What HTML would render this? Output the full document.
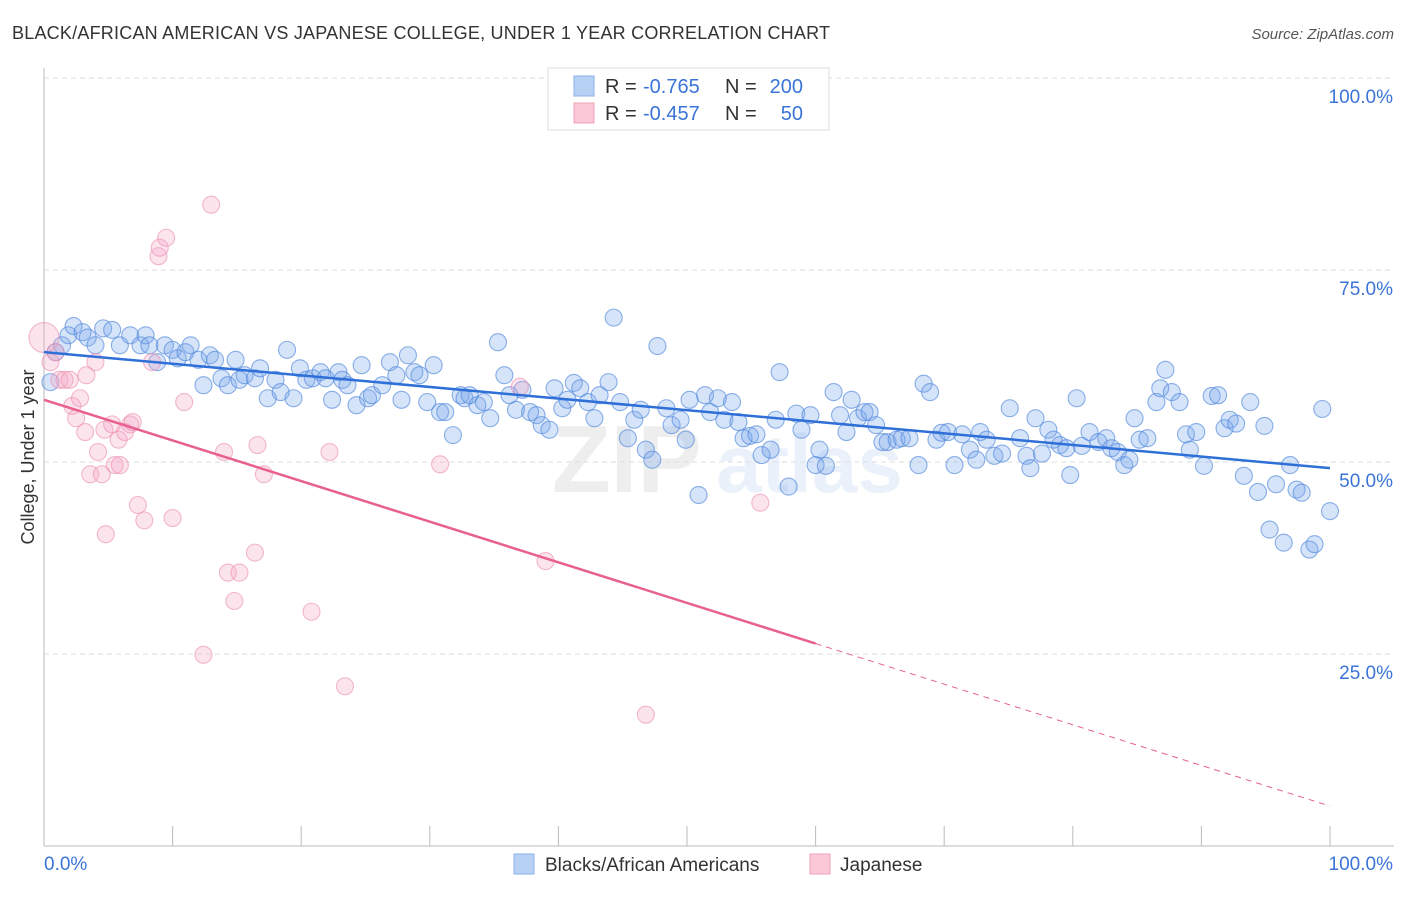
<!DOCTYPE html>
<html><head><meta charset="utf-8"><style>
body{margin:0;background:#fff;font-family:"Liberation Sans",sans-serif;}
svg text{font-family:"Liberation Sans",sans-serif;}
</style></head><body>
<svg id="chart" width="1406" height="892" xmlns="http://www.w3.org/2000/svg">
<text x="12" y="39" font-size="18" fill="#333" textLength="818" lengthAdjust="spacing">BLACK/AFRICAN AMERICAN VS JAPANESE COLLEGE, UNDER 1 YEAR CORRELATION CHART</text>
<text x="1394" y="39" font-size="15" fill="#555" text-anchor="end" font-style="italic">Source: ZipAtlas.com</text>
<g opacity="0.12"><text x="552" y="492" font-size="96" font-family="Liberation Serif" fill="#777" font-weight="bold">ZIP</text><text x="716" y="492" font-size="82" fill="#5b8fd8" font-weight="bold">atlas</text></g>
<g id="grid"></g><g id="axes"></g><g id="pts"></g><g id="lines"></g>
<text transform="translate(34,457) rotate(-90)" font-size="18" fill="#333" text-anchor="middle">College, Under 1 year</text>
<g>
<rect x="548" y="68" width="281" height="62" fill="#fff" stroke="#ddd"/>
<rect x="574" y="76" width="20" height="20" fill="#b7d1f5" stroke="#88b0e8"/>
<rect x="574" y="103" width="20" height="20" fill="#fbc8d6" stroke="#f0a0bc"/>
<text x="605" y="93" font-size="20" fill="#333">R =</text>
<text x="643" y="93" font-size="20" fill="#3a74d8">-0.765</text>
<text x="725" y="93" font-size="20" fill="#333">N =</text>
<text x="803" y="93" font-size="20" fill="#3a74d8" text-anchor="end">200</text>
<text x="605" y="120" font-size="20" fill="#333">R =</text>
<text x="643" y="120" font-size="20" fill="#3a74d8">-0.457</text>
<text x="725" y="120" font-size="20" fill="#333">N =</text>
<text x="803" y="120" font-size="20" fill="#3a74d8" text-anchor="end">50</text>
</g>
<g>
<rect x="514" y="854" width="20" height="20" fill="#b7d1f5" stroke="#88b0e8"/>
<text x="545" y="871" font-size="19" fill="#333">Blacks/African Americans</text>
<rect x="810" y="854" width="20" height="20" fill="#fbc8d6" stroke="#f0a0bc"/>
<text x="840" y="871" font-size="19" fill="#333">Japanese</text>
</g>
</svg>
<script>
const blueX=[0.5,0.9,1.4,1.9,2.3,3.0,3.4,4.0,4.6,5.3,5.9,6.7,7.5,7.9,8.2,8.8,9.4,10.0,10.4,11.0,11.4,12.0,12.4,12.9,13.3,13.8,14.3,14.9,15.2,15.6,16.4,16.8,17.4,18.0,18.4,18.9,19.4,19.9,20.4,20.9,21.5,21.9,22.4,22.9,23.2,23.6,24.3,24.7,25.2,25.5,26.3,26.9,27.4,27.8,28.3,28.8,29.2,29.8,30.3,30.8,31.2,31.8,32.4,32.7,33.1,33.7,34.2,34.7,35.3,35.8,36.2,36.7,37.2,37.8,38.3,38.7,39.3,39.7,40.3,40.7,41.2,41.7,42.3,42.8,43.2,43.9,44.3,44.8,45.4,45.9,46.4,46.8,47.3,47.7,48.4,48.8,49.5,49.9,50.9,50.2,51.4,51.8,52.4,52.9,53.5,54.0,54.4,54.9,55.4,55.8,56.5,56.9,57.2,57.9,58.5,58.9,59.6,60.0,60.3,60.8,61.4,61.9,62.4,62.8,63.3,63.8,64.2,64.7,65.2,65.6,66.3,66.7,67.3,68.0,68.4,68.9,69.4,69.8,70.3,70.8,71.4,72.0,72.5,72.8,73.3,73.9,74.5,75.1,75.9,76.4,76.7,77.1,77.6,78.1,78.5,79.0,79.5,79.8,80.3,80.7,81.3,82.0,82.6,83.0,83.5,84.0,84.4,84.8,85.2,85.8,86.5,86.8,87.2,87.7,88.3,88.8,89.1,89.6,90.2,90.8,91.3,91.8,92.2,92.7,93.3,93.8,94.4,94.9,95.3,95.8,96.4,96.9,97.4,97.8,98.4,98.8,99.4,100.0];
const blueY=[60.4,64.3,65.2,66.5,67.7,66.9,66.2,65.2,67.4,67.2,65.2,66.5,65.2,66.5,65.2,63.0,65.2,64.6,63.5,64.3,65.2,63.3,60.0,63.9,63.3,60.9,60.0,63.3,60.7,61.3,60.9,62.2,58.3,60.7,59.1,64.6,58.3,62.2,60.7,60.9,61.7,60.9,58.1,61.7,60.7,60.0,57.4,62.6,58.3,58.7,60.0,63.0,61.3,58.1,63.9,61.7,61.3,57.8,62.6,56.5,56.5,53.5,58.7,58.3,58.7,57.4,57.8,55.7,65.6,61.3,58.7,56.8,59.4,56.5,56.1,54.8,54.2,59.6,57.0,58.1,60.3,59.6,57.8,55.7,58.7,60.4,68.8,57.8,53.1,55.5,56.8,51.6,50.3,65.1,57.0,54.8,55.5,52.9,45.7,58.1,58.7,56.5,58.3,55.5,57.8,55.2,53.1,53.4,53.6,50.9,51.6,55.5,61.7,46.8,56.3,54.2,56.1,49.6,51.6,49.5,59.1,56.1,53.9,58.1,55.7,56.5,56.5,54.8,52.6,52.6,52.9,53.1,53.1,49.6,60.2,59.1,52.9,53.8,53.9,49.6,53.6,51.6,50.3,53.9,52.9,50.8,51.1,57.0,53.1,50.8,49.2,55.7,51.1,54.2,52.9,52.2,51.8,48.3,58.3,52.1,53.9,52.6,53.1,51.8,51.3,49.6,50.3,55.7,52.9,53.1,57.8,59.6,62.0,59.1,57.8,53.6,51.6,53.9,49.5,58.6,58.7,54.4,55.5,55.0,48.2,57.8,46.1,54.7,41.2,47.1,39.5,49.6,46.4,46.0,38.6,39.3,56.9,43.6];
const pinkX=[0,0.5,0.9,1.2,1.6,2.0,2.2,2.5,2.8,3.2,3.3,3.6,4.0,4.2,4.5,4.8,4.7,5.3,5.5,5.8,5.9,6.3,6.7,6.9,7.3,7.8,8.4,8.9,9.0,9.5,10.0,10.9,12.4,13.0,14.0,14.3,14.8,15.2,16.4,16.6,17.1,20.8,22.2,23.4,30.8,37.0,39.0,46.8,55.7];
const pinkY=[66.2,63.0,64.3,60.7,60.7,60.7,57.3,55.7,58.3,53.9,61.3,48.4,63.0,51.3,48.4,40.6,54.2,54.9,49.6,52.9,49.6,53.9,54.9,55.2,44.4,42.4,63.0,76.8,77.9,79.2,42.7,57.8,24.9,83.5,51.3,35.6,31.9,35.6,38.2,52.2,48.4,30.5,51.3,20.8,49.7,59.8,37.1,17.1,44.7];
const blueFit=[64.3,49.2];
const pinkFit=[58.1,5.2];
const pinkSolidEnd=60;
const yTicks=[25,50,75,100];
const xTickVals=[0,10,20,30,40,50,60,70,80,90,100];
const NS="http://www.w3.org/2000/svg";
const X0=44,X1=1330,Y0=846,Y100=78;
const sx=v=>X0+(X1-X0)*v/100, sy=v=>Y0-(Y0-Y100)*v/100;
function mk(tag,attrs,parent){const e=document.createElementNS(NS,tag);for(const k in attrs)e.setAttribute(k,attrs[k]);parent.appendChild(e);return e;}
const grid=document.getElementById('grid'),axes=document.getElementById('axes'),pts=document.getElementById('pts'),lines=document.getElementById('lines');
yTicks.forEach(t=>{const l=mk('line',{x1:X0,x2:1394,y1:sy(t),y2:sy(t),stroke:'#ddd','stroke-dasharray':'5,4'},grid);


const tx=mk('text',{x:1393,y:sy(t)+25,'font-size':19,fill:'#3a74d8','text-anchor':'end'},axes);tx.textContent=t.toFixed(1)+'%';

});
const ya=mk('line',{x1:X0,x2:X0,y1:68,y2:Y0,stroke:'#bbb'},axes);


const xa=mk('line',{x1:X0,x2:1394,y1:Y0,y2:Y0,stroke:'#bbb'},axes);


xTickVals.forEach(t=>{const l=mk('line',{x1:sx(t),x2:sx(t),y1:Y0,y2:Y0-20,stroke:'#bbb'},axes);

});
const xl0=mk('text',{x:44,y:870,'font-size':19,fill:'#3a74d8'},axes);xl0.textContent='0.0%';


const xl1=mk('text',{x:1393,y:870,'font-size':19,fill:'#3a74d8','text-anchor':'end'},axes);xl1.textContent='100.0%';


blueX.forEach((x,i)=>{const c=mk('circle',{cx:sx(x),cy:sy(blueY[i]),r:8.5,fill:'rgba(120,165,235,0.3)',stroke:'rgba(80,135,220,0.65)','stroke-width':1.1},pts);

});
pinkX.forEach((x,i)=>{const c=mk('circle',{cx:sx(x),cy:sy(pinkY[i]),r:i===0?15:8.5,fill:'rgba(245,165,195,0.3)',stroke:'rgba(235,140,175,0.6)','stroke-width':1.1},pts);

});
const bl=mk('line',{x1:sx(0),y1:sy(blueFit[0]),x2:sx(100),y2:sy(blueFit[1]),stroke:'#2f6fd8','stroke-width':2.5},lines);


const pm=pinkFit[0]+(pinkFit[1]-pinkFit[0])*pinkSolidEnd/100;
const pl=mk('line',{x1:sx(0),y1:sy(pinkFit[0]),x2:sx(pinkSolidEnd),y2:sy(pm),stroke:'#e8608f','stroke-width':2.5},lines);


const pd=mk('line',{x1:sx(pinkSolidEnd),y1:sy(pm),x2:sx(100),y2:sy(pinkFit[1]),stroke:'#e8608f','stroke-width':1,'stroke-dasharray':'6,5'},lines);


</script>
</body></html>
